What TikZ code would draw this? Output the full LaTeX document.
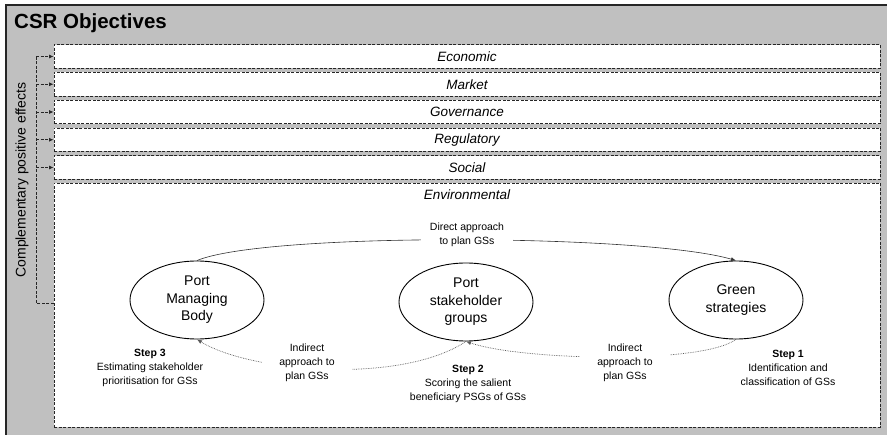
\documentclass[tikz,border=0pt]{standalone}
\usepackage{fontspec}
\setmainfont{Liberation Sans}
\usepackage{tikz}
\usetikzlibrary{arrows.meta,positioning,shapes.geometric}
\definecolor{framegray}{HTML}{C0C0C0}

\begin{document}
\begin{tikzpicture}[
    x=1pt, y=-1pt,
    objbox/.style={rectangle, draw=black!85, fill=white, dash pattern=on 3pt off 1.5pt, line width=0.8pt, minimum width=826pt, minimum height=23.5pt, inner sep=0pt, font=\fontsize{13.5}{16}\selectfont\itshape},
    actor/.style={ellipse, draw=black, line width=0.9pt, fill=white, minimum width=134pt, minimum height=78pt, inner sep=0pt, align=center, font=\fontsize{14}{17.5}\selectfont},
    note/.style={align=center, font=\fontsize{10.5}{14}\selectfont},
    gapnote/.style={note, fill=white, inner ysep=1pt},
    effline/.style={dash pattern=on 3pt off 1.5pt, line width=0.8pt, draw=black!85},
    effarrow/.style={effline, -{Latex[length=4.5pt,width=4pt]}},
    directarrow/.style={-{Latex[length=5pt,width=4pt]}, line width=0.6pt, draw=black!80},
    indirectarrow/.style={-{Latex[length=5pt,width=4pt]}, densely dotted, line width=0.7pt, draw=black!65}
]
    \useasboundingbox (0,0) rectangle (887,435);

    % --- FRAME ---
    \fill[framegray] (6,5) rectangle (887,435);
    \draw[line width=1.2pt, black!85] (6,435) -- (6,5) -- (887,5);
    \node[anchor=west, inner sep=0pt, font=\fontsize{20.5}{24}\selectfont\bfseries] (title) at (14,23) {CSR Objectives};

    % --- OBJECTIVES ---
    \foreach \lbl [count=\i] in {Economic,Market,Governance,Regulatory,Social} {
        \node[objbox] (obj\i) at (467, {28.75+27.75*\i}) {\lbl};
    }
    \node[objbox, minimum height=244pt] (env) at (467,305) {};
    \node[font=\fontsize{13.5}{16}\selectfont\itshape] (envlbl) at (467,195) {Environmental};

    % complementary effects bracket
    \coordinate (brk) at (36,303);
    \draw[effline] (env.west |- brk) -- (brk) -- (brk |- obj1.west);
    \foreach \i in {1,...,5} {
        \draw[effarrow] (brk |- obj\i.west) -- (obj\i.west);
    }
    \node[rotate=90, font=\fontsize{14}{17}\selectfont] (cpe) at (22,180) {Complementary positive effects};

    % --- ACTORS ---
    \node[actor] (pmb) at (197,300) {Port\\Managing\\Body};
    \node[actor] (psg) at (466,302) {Port\\stakeholder\\groups};
    \node[actor] (gs) at (736,300) {Green\\strategies};

    % direct approach
    \draw[directarrow] (pmb.north) .. controls (265,232) and (645,234) .. (gs.north);
    \node[gapnote, inner xsep=9pt] (dir) at (467,235) {Direct approach\\to plan GSs};

    % indirect approach
    \draw[indirectarrow] (gs.south) .. controls (700,365) and (520,360) .. (psg.south);
    \draw[indirectarrow] (psg.south) .. controls (400,385) and (250,372) .. (pmb.south);
    \node[gapnote, inner xsep=17pt] (indr) at (625,363) {Indirect\\approach to\\plan GSs};
    \node[gapnote, inner xsep=17pt] (indl) at (307,363) {Indirect\\approach to\\plan GSs};

    % --- STEPS ---
    \node[note] (s3) at (150,368) {\textbf{Step 3}\\Estimating stakeholder\\prioritisation for GSs};
    \node[note] (s2) at (468,384) {\textbf{Step 2}\\Scoring the salient\\beneficiary PSGs of GSs};
    \node[note] (s1) at (788,368) {\textbf{Step 1}\\Identification and\\classification of GSs};

\end{tikzpicture}
\end{document}
